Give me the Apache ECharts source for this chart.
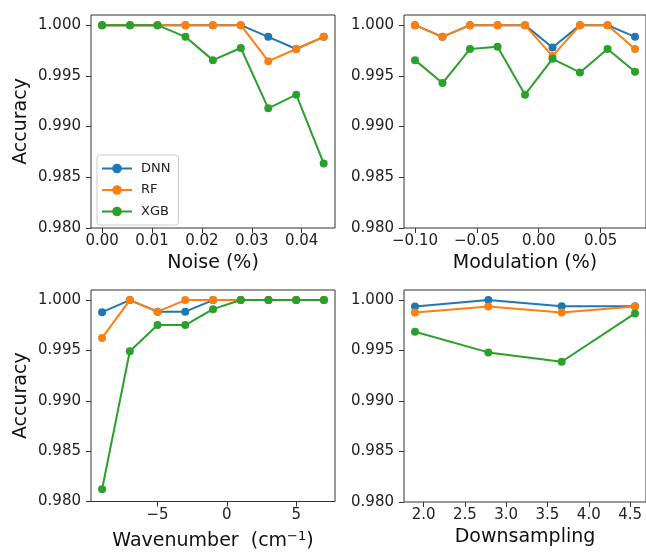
<!DOCTYPE html>
<html>
<head>
<meta charset="utf-8">
<script src="https://cdn.jsdelivr.net/npm/echarts@6/dist/echarts.min.js"></script>
<style>
  html, body { margin: 0; padding: 0; background: #fff; }
  #chart { width: 646px; height: 552px; }
</style>
</head>
<body>
<div id="chart"></div>
<script>
// 数据
const names = ["DNN", "RF", "XGB"];
const colors = ["#1f77b4", "#ff7f0e", "#2ca02c"];

// Noise (%)
const noiseX = [0, 0.0056, 0.0111, 0.0167, 0.0222, 0.0278, 0.0333, 0.0389, 0.0444];
const noiseDNN = [1, 1, 1, 1, 1, 1, 0.99885, 0.99765, 0.99885];
const noiseRF = [1, 1, 1, 1, 1, 1, 0.99645, 0.99765, 0.99885];
const noiseXGB = [1, 1, 1, 0.99885, 0.99655, 0.99775, 0.9918, 0.99314, 0.98637];

// Modulation (%)
const modX = [-0.1, -0.0778, -0.0556, -0.0333, -0.0111, 0.0111, 0.0333, 0.0556, 0.0778];
const modDNN = [1, 0.99885, 1, 1, 1, 0.9978, 1, 1, 0.99885];
const modRF = [1, 0.99885, 1, 1, 1, 0.99695, 1, 1, 0.99765];
const modXGB = [0.99655, 0.99429, 0.99764, 0.99786, 0.99314, 0.99668, 0.99534, 0.99764, 0.9954];

// Wavenumber (cm-1)
const waveX = [-9, -7, -5, -3, -1, 1, 3, 5, 7];
const waveDNN = [0.9988, 1, 0.99885, 0.99885, 1, 1, 1, 1, 1];
const waveRF = [0.99624, 1, 0.99885, 1, 1, 1, 1, 1, 1];
const waveXGB = [0.98122, 0.99492, 0.99752, 0.99752, 0.9991, 1, 1, 1, 1];

// Downsampling
const downX = [1.896, 2.784, 3.672, 4.56];
const downDNN = [0.99937, 1, 0.9994, 0.9994];
const downRF = [0.99878, 0.99937, 0.99878, 0.99937];
const downXGB = [0.99686, 0.99482, 0.99389, 0.99868];

// 刻度
const yTicks = [0.98, 0.985, 0.99, 0.995, 1.0];
const noiseTicks = [0, 0.01, 0.02, 0.03, 0.04];
const modTicks = [-0.1, -0.05, 0, 0.05];
const waveTicks = [-5, 0, 5];
const downTicks = [2, 2.5, 3, 3.5, 4, 4.5];

const FONT = "DejaVu Sans";
const minus = (s) => String(s).replace("-", "\u2212");

const grids = [
  { left: 91, top: 15, width: 244, height: 213 },
  { left: 404, top: 15, width: 244, height: 213 },
  { left: 91, top: 290, width: 244, height: 212 },
  { left: 404, top: 290, width: 244, height: 212 },
].map((g) => Object.assign({ show: true, borderColor: "#333", borderWidth: 1, backgroundColor: "#fff" }, g));

function xAxisOf(idx, min, max, ticks, digits, name, gap, nameRich) {
  return {
    type: "value",
    gridIndex: idx,
    min, max,
    name,
    nameLocation: "middle",
    nameGap: gap,
    nameTextStyle: Object.assign({ fontFamily: FONT, fontSize: 19, color: "#111" }, nameRich ? { rich: nameRich } : {}),
    axisLine: { show: false, onZero: false },
    axisTick: { show: true, length: 5, customValues: ticks, lineStyle: { color: "#333" } },
    axisLabel: {
      customValues: ticks,
      margin: 6,
      fontFamily: FONT, fontSize: 15, color: "#222",
      formatter: (v) => minus(Number(v).toFixed(digits)),
    },
    splitLine: { show: false },
  };
}

function yAxisOf(idx, withName) {
  return {
    type: "value",
    gridIndex: idx,
    min: 0.98, max: 1.001,
    name: withName ? "Accuracy" : "",
    nameLocation: "middle",
    nameGap: 60,
    nameTextStyle: { fontFamily: FONT, fontSize: 19, color: "#111" },
    axisLine: { show: false, onZero: false },
    axisTick: { show: true, length: 5, customValues: yTicks, lineStyle: { color: "#333" } },
    axisLabel: {
      customValues: yTicks,
      margin: 10,
      fontFamily: FONT, fontSize: 15, color: "#222",
      formatter: (v) => Number(v).toFixed(3),
    },
    splitLine: { show: false },
  };
}

function seriesOf(idx, xs, ys3) {
  return ys3.map((ys, i) => ({
    name: names[i],
    type: "line",
    xAxisIndex: idx,
    yAxisIndex: idx,
    data: xs.map((x, j) => [x, ys[j]]),
    symbol: "circle",
    symbolSize: 8,
    itemStyle: { color: colors[i] },
    lineStyle: { color: colors[i], width: 2 },
    emphasis: { disabled: true },
    animation: false,
    z: 2 + i,
  }));
}

const chart = echarts.init(document.getElementById("chart"), null, { renderer: "canvas" });
chart.setOption({
  backgroundColor: "#fff",
  animation: false,
  grid: grids,
  xAxis: [
    xAxisOf(0, -0.00222, 0.04667, noiseTicks, 2, "Noise (%)", 26),
    xAxisOf(1, -0.10889, 0.08667, modTicks, 2, "Modulation (%)", 26),
    xAxisOf(2, -9.8, 7.8, waveTicks, 0, "Wavenumber  (cm{sup|\u22121})", 29,
      { sup: { fontFamily: FONT, fontSize: 13, color: "#111", verticalAlign: "top", padding: [0, 0, 9, 0] } }),
    xAxisOf(3, 1.763, 4.693, downTicks, 1, "Downsampling", 26),
  ],
  yAxis: [yAxisOf(0, true), yAxisOf(1, false), yAxisOf(2, true), yAxisOf(3, false)],
  legend: {
    data: names,
    orient: "vertical",
    left: 97,
    top: 155,
    padding: [7, 8, 7, 4],
    itemWidth: 30,
    itemHeight: 12,
    itemGap: 8.5,
    backgroundColor: "rgba(255,255,255,0.85)",
    borderColor: "#ccc",
    borderWidth: 1,
    borderRadius: 3,
    textStyle: { fontFamily: FONT, fontSize: 13, color: "#222", padding: [0, 0, 0, 4] },
  },
  series: [
    ...seriesOf(0, noiseX, [noiseDNN, noiseRF, noiseXGB]),
    ...seriesOf(1, modX, [modDNN, modRF, modXGB]),
    ...seriesOf(2, waveX, [waveDNN, waveRF, waveXGB]),
    ...seriesOf(3, downX, [downDNN, downRF, downXGB]),
  ],
});
</script>
</body>
</html>
